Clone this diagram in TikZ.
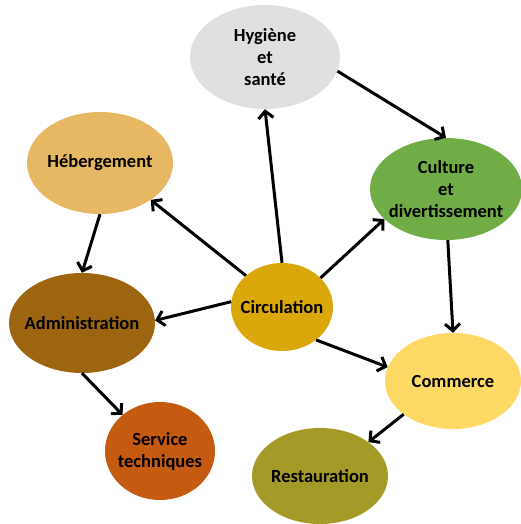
\documentclass[tikz,border=0pt]{standalone}
\usepackage{fontspec}
\setmainfont{Carlito}
\usetikzlibrary{arrows.meta,shapes.geometric}

\definecolor{hyggray}{RGB}{224,224,224}
\definecolor{hebsand}{RGB}{230,184,100}
\definecolor{culgreen}{RGB}{112,173,71}
\definecolor{circgold}{RGB}{219,168,12}
\definecolor{admbrown}{RGB}{158,101,17}
\definecolor{comyellow}{RGB}{255,217,102}
\definecolor{servorange}{RGB}{197,90,17}
\definecolor{restolive}{RGB}{163,154,40}

\begin{document}
\begin{tikzpicture}[x=1pt,y=-1pt,
    zone/.style={ellipse,inner sep=-14pt,align=center,
      font=\fontsize{18.5}{22}\selectfont\bfseries},
    link/.style={line width=3pt,-{Straight Barb[length=7pt,width=15pt,line width=3pt]}}]
  \useasboundingbox (0,0) rectangle (521,524);
  \node[zone,fill=hyggray,minimum width=150,minimum height=104] (hyg) at (265,57) {Hygiène\\et\\santé};
  \node[zone,fill=hebsand,minimum width=146,minimum height=102] (heb) at (100,163) {Hébergement};
  \node[zone,fill=culgreen,minimum width=152,minimum height=102] (cul) at (446,189) {Culture\\et\\divertissement};
  \node[zone,fill=circgold,minimum width=102,minimum height=88] (circ) at (282,307) {Circulation};
  \node[zone,fill=admbrown,minimum width=146,minimum height=100] (adm) at (82,323) {Administration};
  \node[zone,fill=comyellow,minimum width=136,minimum height=96] (com) at (453,381) {Commerce};
  \node[zone,fill=servorange,minimum width=110,minimum height=98] (serv) at (160,451) {Service\\techniques};
  \node[zone,fill=restolive,minimum width=136,minimum height=96] (rest) at (320,476) {Restauration};

  \draw[link] (hyg.-11) -- (cul.90);
  \draw[link] (circ.north) -- (hyg.south);
  \draw[link] (circ.139) -- (heb.-36);
  \draw[link] (circ.37) -- (cul.206);
  \draw[link] (circ.174) -- (adm.2);
  \draw[link] (circ.-44) -- (com.168);
  \draw[link] (cul.-88) -- (com.north);
  \draw[link] (com.214) -- (rest.35);
  \draw[link] (heb.south) -- (adm.north);
  \draw[link] (adm.south) -- (serv.136);
\end{tikzpicture}
\end{document}
